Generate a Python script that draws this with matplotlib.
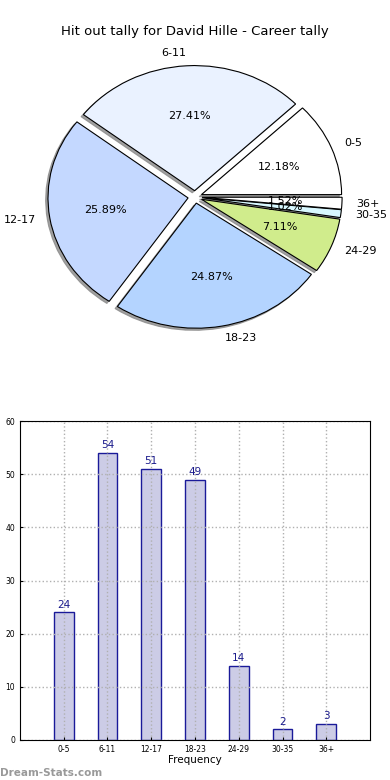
import numpy as np
import matplotlib
matplotlib.use("Agg")
import matplotlib.pyplot as plt

categorias = ["0-5", "6-11", "12-17", "18-23", "24-29", "30-35", "36+"]
contagem = [24, 54, 51, 49, 14, 2, 3]
cores_pizza = ["#ffffff", "#eaf2ff", "#c4d8ff", "#b4d4ff", "#d0ec8c", "#d8f8ff", "#ffffff"]

fig = plt.figure(figsize=(3.9, 7.8), dpi=100)

# pizza (elipse, como no matplotlib antigo)
ax1 = fig.add_axes([0.051, 0.547, 0.898, 0.401])
wedges, textos, pcts = ax1.pie(
    contagem,
    labels=categorias,
    colors=cores_pizza,
    explode=[0.05] * len(contagem),
    autopct="%1.2f%%",
    shadow=dict(ox=-0.012, oy=-0.012, facecolor="#888888", edgecolor="#888888", alpha=0.8),
    wedgeprops=dict(edgecolor="black", linewidth=0.8),
    textprops=dict(fontsize=8),
)
ax1.set_aspect("auto")
ax1.set_xlim(-1.25, 1.25)
ax1.set_ylim(-1.25, 1.25)
ax1.set_title("Hit out tally for David Hille - Career tally", fontsize=9.5, pad=4)

# barras
ax2 = fig.add_axes([0.051, 0.0513, 0.898, 0.4087])
x = np.arange(len(categorias))
barras = ax2.bar(x, contagem, width=0.45, color="#ccccE6", edgecolor="#1a1a99", linewidth=1.0, zorder=2)
for xi, v in zip(x, contagem):
    ax2.text(xi, v + 0.5, str(v), ha="center", va="bottom", fontsize=7.5, color="#1a1a8c", zorder=3)
ax2.set_xlim(-1, 7)
ax2.set_ylim(0, 60)
ax2.set_xticks(x)
ax2.set_xticklabels(categorias)
ax2.set_yticks(np.arange(0, 61, 10))
ax2.tick_params(labelsize=5.5, length=2, direction="in")
ax2.grid(True, which="both", linestyle=":", color="#b0b0b0", linewidth=1.0, zorder=0)
ax2.set_axisbelow(False)
for sp in ax2.spines.values():
    sp.set_zorder(5)
ax2.set_xlabel("Frequency", fontsize=7.5, labelpad=1)

fig.text(0.0, 0.003, "Dream-Stats.com", fontsize=7.5, color="#999999", fontweight="bold", ha="left", va="bottom")

fig.savefig("out.png", dpi=100)
